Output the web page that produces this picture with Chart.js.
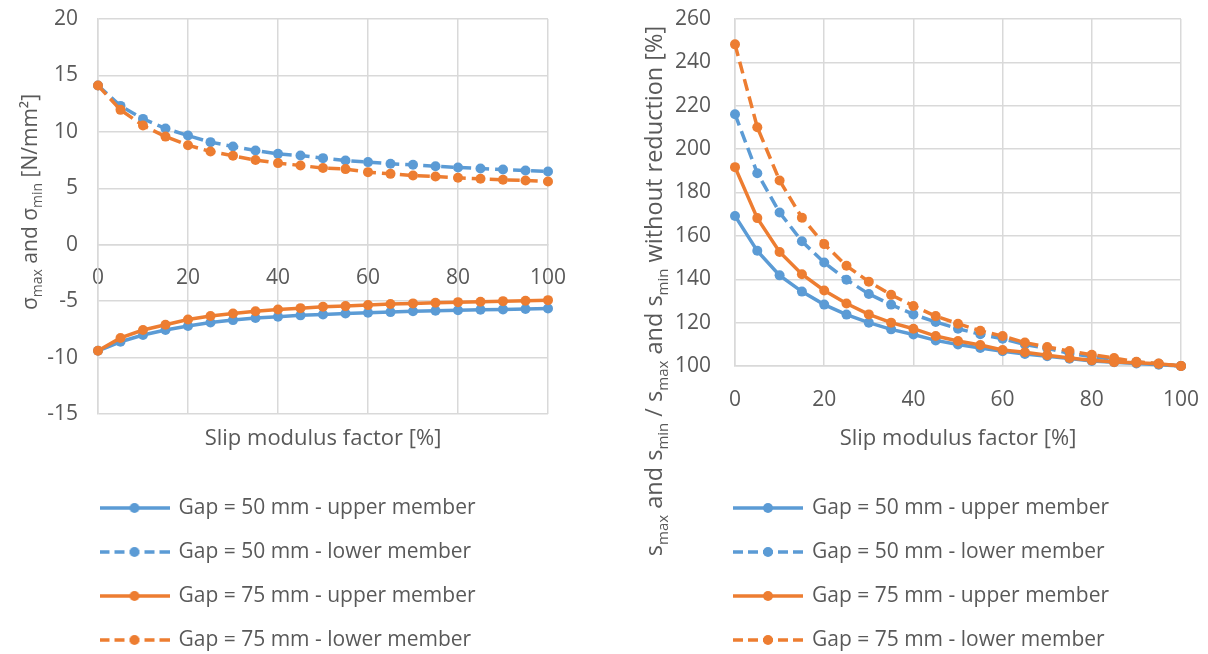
<!DOCTYPE html>
<html>
<head>
<meta charset="utf-8">
<script src="https://cdn.jsdelivr.net/npm/chart.js@4.4.1/dist/chart.umd.min.js"></script>
<style>
  body { margin: 0; background: #fff; }
  .panel { position: absolute; top: 0; width: 604px; height: 654px; }
  #leftPanel { left: 0; }
  #rightPanel { left: 604px; }
</style>
</head>
<body>
<div class="panel" id="leftPanel"><canvas id="stressChart" width="604" height="654"></canvas></div>
<div class="panel" id="rightPanel"><canvas id="ratioChart" width="604" height="654"></canvas></div>
<script>
// Slip modulus factor [%]
const slipFactor = [0, 5, 10, 15, 20, 25, 30, 35, 40, 45, 50, 55, 60, 65, 70, 75, 80, 85, 90, 95, 100];

// Left chart: sigma max / min [N/mm2]
const stressUpper50 = [-9.4, -8.6, -8.0, -7.55, -7.2, -6.9, -6.68, -6.5, -6.38, -6.26, -6.18, -6.09, -6.03, -5.97, -5.9, -5.85, -5.8, -5.76, -5.73, -5.7, -5.65];
const stressLower50 = [14.1, 12.3, 11.15, 10.3, 9.67, 9.09, 8.7, 8.35, 8.05, 7.9, 7.67, 7.46, 7.32, 7.17, 7.08, 6.96, 6.84, 6.75, 6.66, 6.58, 6.49];
const stressUpper75 = [-9.4, -8.26, -7.56, -7.09, -6.62, -6.32, -6.09, -5.9, -5.74, -5.62, -5.5, -5.44, -5.35, -5.26, -5.2, -5.15, -5.09, -5.06, -5.0, -4.97, -4.91];
const stressLower75 = [14.1, 11.95, 10.56, 9.58, 8.82, 8.26, 7.88, 7.5, 7.23, 7.02, 6.79, 6.7, 6.43, 6.28, 6.13, 6.04, 5.93, 5.84, 5.75, 5.69, 5.6];

// Right chart: ratio to values without reduction [%]
const ratioUpper50 = [169.2, 153.1, 141.8, 134.3, 128.3, 123.7, 120.0, 116.9, 114.5, 111.8, 109.9, 108.3, 106.8, 105.5, 104.5, 103.4, 102.3, 101.7, 101.2, 100.6, 100];
const ratioLower50 = [216.1, 188.9, 170.8, 157.5, 147.7, 139.8, 133.2, 128.3, 123.8, 120.3, 117.2, 114.6, 112.6, 109.9, 108.2, 105.8, 104.3, 103.0, 101.8, 101.0, 100];
const ratioUpper75 = [191.7, 168.2, 152.6, 142.3, 134.8, 128.8, 123.8, 120.0, 117.2, 113.8, 111.5, 109.7, 107.4, 106.3, 105.0, 103.7, 102.6, 101.8, 101.5, 101.0, 100];
const ratioLower75 = [248.3, 210.1, 185.5, 168.4, 156.2, 146.2, 138.9, 132.8, 127.7, 123.0, 119.5, 116.2, 113.8, 110.8, 108.8, 106.9, 105.2, 103.7, 102.0, 101.1, 100];

const seriesNames = ['Gap = 50 mm - upper member', 'Gap = 50 mm - lower member', 'Gap = 75 mm - upper member', 'Gap = 75 mm - lower member'];

const BLUE = '#5B9BD5';
const ORANGE = '#ED7D31';
const TEXT = '#595959';
const GRID = '#D9D9D9';
const FONT = "'Open Sans', sans-serif";

Chart.defaults.font.family = FONT;
Chart.defaults.font.size = 21;
Chart.defaults.color = TEXT;

const seriesStyle = [
    { color: BLUE, dashed: false },
    { color: BLUE, dashed: true },
    { color: ORANGE, dashed: false },
    { color: ORANGE, dashed: true }
];

// line + marker sample for the legend
function legendSample(color, dashed) {
    const c = document.createElement('canvas');
    c.width = 70;
    c.height = 12;
    const g = c.getContext('2d');
    g.strokeStyle = color;
    g.lineWidth = 3.5;
    if (dashed) g.setLineDash([10, 5]);
    g.beginPath();
    g.moveTo(0, 6);
    g.lineTo(70, 6);
    g.stroke();
    g.fillStyle = color;
    g.beginPath();
    g.arc(35, 6, 5, 0, Math.PI * 2);
    g.fill();
    return c;
}
const samples = seriesStyle.map(s => legendSample(s.color, s.dashed));

// rotated y-axis title with subscripts
const richTitle = {
    id: 'richTitle',
    afterDraw(chart, args, opts) {
        const ctx = chart.ctx;
        const big = opts.size + 'px ' + FONT;
        const small = Math.round(opts.size * 0.65) + 'px ' + FONT;
        ctx.save();
        ctx.fillStyle = TEXT;
        ctx.textBaseline = 'alphabetic';
        let total = 0;
        const widths = opts.parts.map(p => {
            ctx.font = p.sub ? small : big;
            const w = ctx.measureText(p.text).width;
            total += w;
            return w;
        });
        ctx.translate(opts.x, opts.y);
        ctx.rotate(-Math.PI / 2);
        let x = -total / 2;
        opts.parts.forEach((p, i) => {
            ctx.font = p.sub ? small : big;
            ctx.fillText(p.text, x, p.sub ? opts.size * 0.25 : 0);
            x += widths[i];
        });
        ctx.restore();
    }
};

// move the legend block so its first sample starts at opts.x
const legendShift = {
    id: 'legendShift',
    afterLayout(chart, args, opts) {
        const lg = chart.legend;
        const dx = opts.x - (lg.left + lg.options.labels.padding);
        lg.left += dx;
        lg.right += dx;
    }
};

function makeDatasets(values) {
    return values.map((vals, i) => ({
        label: seriesNames[i],
        data: slipFactor.map((x, j) => ({ x: x, y: vals[j] })),
        borderColor: seriesStyle[i].color,
        backgroundColor: seriesStyle[i].color,
        borderWidth: 3.5,
        borderDash: seriesStyle[i].dashed ? [12, 6] : [],
        pointRadius: 5,
        pointBorderWidth: 0,
        pointBackgroundColor: seriesStyle[i].color,
        order: 4 - i,
        clip: false
    }));
}

function legendOptions() {
    return {
        position: 'bottom',
        align: 'start',
        labels: {
            usePointStyle: true,
            pointStyleWidth: 67,
            padding: 23,
            color: TEXT,
            font: { size: 21 },
            sort: (a, b) => a.datasetIndex - b.datasetIndex,
            generateLabels(chart) {
                const items = Chart.defaults.plugins.legend.labels.generateLabels(chart);
                items.forEach(it => { it.pointStyle = samples[it.datasetIndex]; });
                return items;
            }
        }
    };
}

function titleAxis() {
    return {
        type: 'linear',
        position: 'bottom',
        min: 0,
        max: 100,
        weight: 1,
        ticks: { display: false },
        grid: { display: false },
        border: { display: false },
        title: { display: true, text: 'Slip modulus factor [%]', color: TEXT, font: { size: 22 }, padding: { top: 0, bottom: 23 } },
        afterFit: s => { s.height = 60.5; }
    };
}

// tick gap is made with invisible tick marks so the labels keep their padding small
function gridOpts(tickLength) {
    return { color: GRID, lineWidth: 1.5, drawTicks: true, tickLength: tickLength, tickColor: 'rgba(0,0,0,0)' };
}

new Chart(document.getElementById('stressChart'), {
    type: 'line',
    data: { datasets: makeDatasets([stressUpper50, stressLower50, stressUpper75, stressLower75]) },
    options: {
        responsive: false,
        animation: false,
        layout: { padding: { left: 30, right: 56, top: 19, bottom: -6.5 } },
        scales: {
            x: {
                type: 'linear',
                position: { y: 0 },
                min: 0,
                max: 100,
                ticks: { stepSize: 20, padding: 0, color: TEXT },
                grid: gridOpts(21),
                border: { color: GRID, width: 1.5 }
            },
            y: {
                min: -15,
                max: 20,
                ticks: { stepSize: 5, padding: 0, color: TEXT },
                grid: gridOpts(20),
                border: { color: GRID, width: 1.5 },
                afterFit: s => { s.width = 68; }
            },
            x2: titleAxis()
        },
        plugins: {
            legend: legendOptions(),
            tooltip: { enabled: false },
            legendShift: { x: 101 },
            richTitle: {
                x: 36.5,
                y: 202,
                size: 21,
                parts: [
                    { text: 'σ' }, { text: 'max', sub: true },
                    { text: ' and σ' }, { text: 'min', sub: true },
                    { text: ' [N/mm²]' }
                ]
            }
        }
    },
    plugins: [richTitle, legendShift]
});

new Chart(document.getElementById('ratioChart'), {
    type: 'line',
    data: { datasets: makeDatasets([ratioUpper50, ratioLower50, ratioUpper75, ratioLower75]) },
    options: {
        responsive: false,
        animation: false,
        layout: { padding: { left: 61, right: 27, top: 19, bottom: -6.5 } },
        scales: {
            x: {
                type: 'linear',
                position: 'bottom',
                min: 0,
                max: 100,
                weight: 0,
                ticks: { stepSize: 20, padding: 0, color: TEXT },
                grid: gridOpts(21),
                border: { color: GRID, width: 1.5 },
                afterFit: s => { s.height = 48; }
            },
            y: {
                min: 100,
                max: 260,
                ticks: { stepSize: 20, padding: 0, color: TEXT },
                grid: gridOpts(24),
                border: { color: GRID, width: 1.5 },
                afterFit: s => { s.width = 70; }
            },
            x2: titleAxis()
        },
        plugins: {
            legend: legendOptions(),
            tooltip: { enabled: false },
            legendShift: { x: 130.5 },
            richTitle: {
                x: 58,
                y: 291,
                size: 23.5,
                parts: [
                    { text: 's' }, { text: 'max', sub: true },
                    { text: ' and s' }, { text: 'min', sub: true },
                    { text: ' / s' }, { text: 'max', sub: true },
                    { text: ' and s' }, { text: 'min', sub: true },
                    { text: ' without reduction [%]' }
                ]
            }
        }
    },
    plugins: [richTitle, legendShift]
});
</script>
</body>
</html>
